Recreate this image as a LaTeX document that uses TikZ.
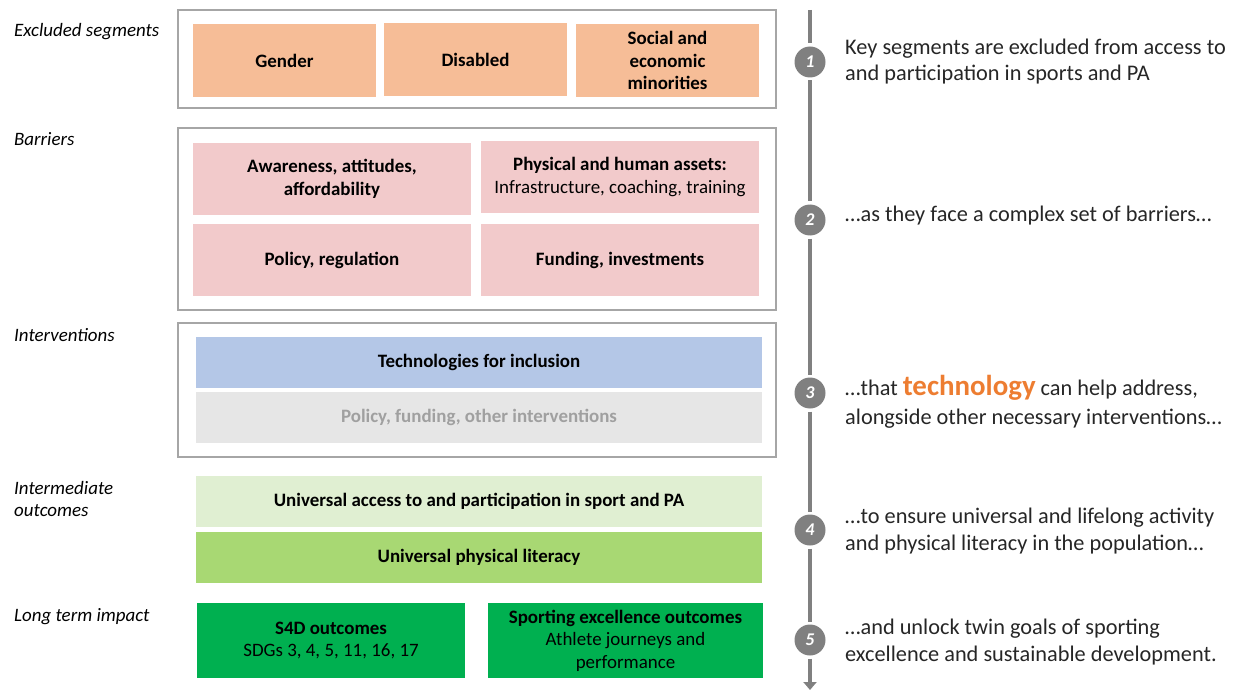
\documentclass[tikz,border=0pt]{standalone}
\usepackage{fontspec}
\setmainfont{Carlito}
\usetikzlibrary{arrows.meta}
\definecolor{frameg}{HTML}{A6A6A6}
\definecolor{segor}{HTML}{F6BD97}
\definecolor{barpk}{HTML}{F2CACB}
\definecolor{techbl}{HTML}{B4C7E7}
\definecolor{othgr}{HTML}{E6E6E6}
\definecolor{othtx}{HTML}{A0A0A0}
\definecolor{ltgrn}{HTML}{E0EFD2}
\definecolor{midgrn}{HTML}{A8D873}
\definecolor{dkgrn}{HTML}{00B050}
\definecolor{tlgray}{HTML}{808080}
\definecolor{techor}{HTML}{ED7D31}
\definecolor{bodytx}{HTML}{262626}
\tikzset{
  frame/.style={draw=frameg, line width=1.3bp, fill=none},
  cell/.style={inner sep=0pt, align=center, font=\fontsize{19}{22.5}\selectfont\bfseries},
  lefttag/.style={anchor=base west, inner sep=0pt, align=left, font=\fontsize{19}{22}\selectfont\itshape},
  stepnum/.style={circle, fill=tlgray, minimum size=31bp, inner sep=0pt, outer sep=3bp, text=white, font=\fontsize{18}{18}\selectfont\bfseries\itshape},
  tline/.style={draw=tlgray, line width=4bp},
  rtext/.style={anchor=base west, inner sep=0pt, align=left, text=bodytx, font=\fontsize{22.4}{26.5}\selectfont},
}
\newcommand{\cellat}[7]{% name, x1,y1,x2,y2, style, text
  \node[cell,#6,minimum width=#4bp-#2bp, minimum height=#5bp-#3bp] (#1) at ({(#2+#4)/2},{(#3+#5)/2}) {#7};}
\begin{document}
\begin{tikzpicture}[x=1bp,y=-1bp]
\useasboundingbox (0,0) rectangle (1234,690);
% frames
\draw[frame] (178,10) rectangle (776,108);
\draw[frame] (178,128) rectangle (776,310);
\draw[frame] (178,323) rectangle (776,457);
% excluded segments
\cellat{gen}{193}{24}{376}{97}{fill=segor}{Gender}
\cellat{dis}{384}{23}{567}{96}{fill=segor}{Disabled}
\cellat{soc}{576}{24}{759}{97}{fill=segor}{Social and\\economic\\minorities}
% barriers
\cellat{awa}{193}{143}{471}{215}{fill=barpk}{Awareness, attitudes,\\affordability}
\cellat{phy}{481}{141}{759}{213}{fill=barpk}{Physical and human assets:\\\mdseries Infrastructure, coaching, training}
\cellat{pol}{193}{224}{471}{296}{fill=barpk}{Policy, regulation}
\cellat{fun}{481}{224}{759}{296}{fill=barpk}{Funding, investments}
% interventions
\cellat{tec}{196}{337}{762}{388}{fill=techbl}{Technologies for inclusion}
\cellat{oth}{196}{392}{762}{443}{fill=othgr,text=othtx}{Policy, funding, other interventions}
% intermediate
\cellat{acc}{196}{476}{762}{527}{fill=ltgrn}{Universal access to and participation in sport and PA}
\cellat{lit}{196}{532}{762}{583}{fill=midgrn}{Universal physical literacy}
% impact
\cellat{s4d}{197}{603}{465}{678}{fill=dkgrn}{S4D outcomes\\\mdseries SDGs 3, 4, 5, 11, 16, 17}
\cellat{exc}{488}{603}{763}{678}{fill=dkgrn}{Sporting excellence outcomes\\\mdseries Athlete journeys and\\\mdseries performance}
% left tags
\node[lefttag] (t1) at (14,37) {Excluded segments};
\node[lefttag] (t2) at (14,146) {Barriers};
\node[lefttag] (t3) at (14,341) {Interventions};
\node[lefttag] (t4) at (14,516) {Intermediate\\outcomes};
\node[lefttag] (t5) at (14,621) {Long term impact};
% timeline
\coordinate (ttop) at (810,10);
\coordinate (tbot) at (810,690);
\node[stepnum] (c1) at (810,62) {1};
\node[stepnum] (c2) at (810,220) {2};
\node[stepnum] (c3) at (810,393) {3};
\node[stepnum] (c4) at (810,530) {4};
\node[stepnum] (c5) at (810,640) {5};
\draw[tline] (ttop) -- (c1);
\draw[tline] (c1) -- (c2);
\draw[tline] (c2) -- (c3);
\draw[tline] (c3) -- (c4);
\draw[tline] (c4) -- (c5);
\draw[tline, -{Triangle[width=13bp,length=8bp]}] (c5) -- (tbot);
% right texts (base = last line)
\node[rtext] (r1) at (845,81) {Key segments are excluded from access to\\and participation in sports and PA};
\node[rtext] (r2) at (845,222) {…as they face a complex set of barriers…};
\node[rtext] (r3) at (845,424) {…that {\color{techor}\fontsize{29}{30}\selectfont\bfseries technology} can help address,\\[2bp]alongside other necessary interventions…};
\node[rtext] (r4) at (845,550) {…to ensure universal and lifelong activity\\and physical literacy in the population…};
\node[rtext] (r5) at (845,661) {…and unlock twin goals of sporting\\excellence and sustainable development.};
\end{tikzpicture}
\end{document}
